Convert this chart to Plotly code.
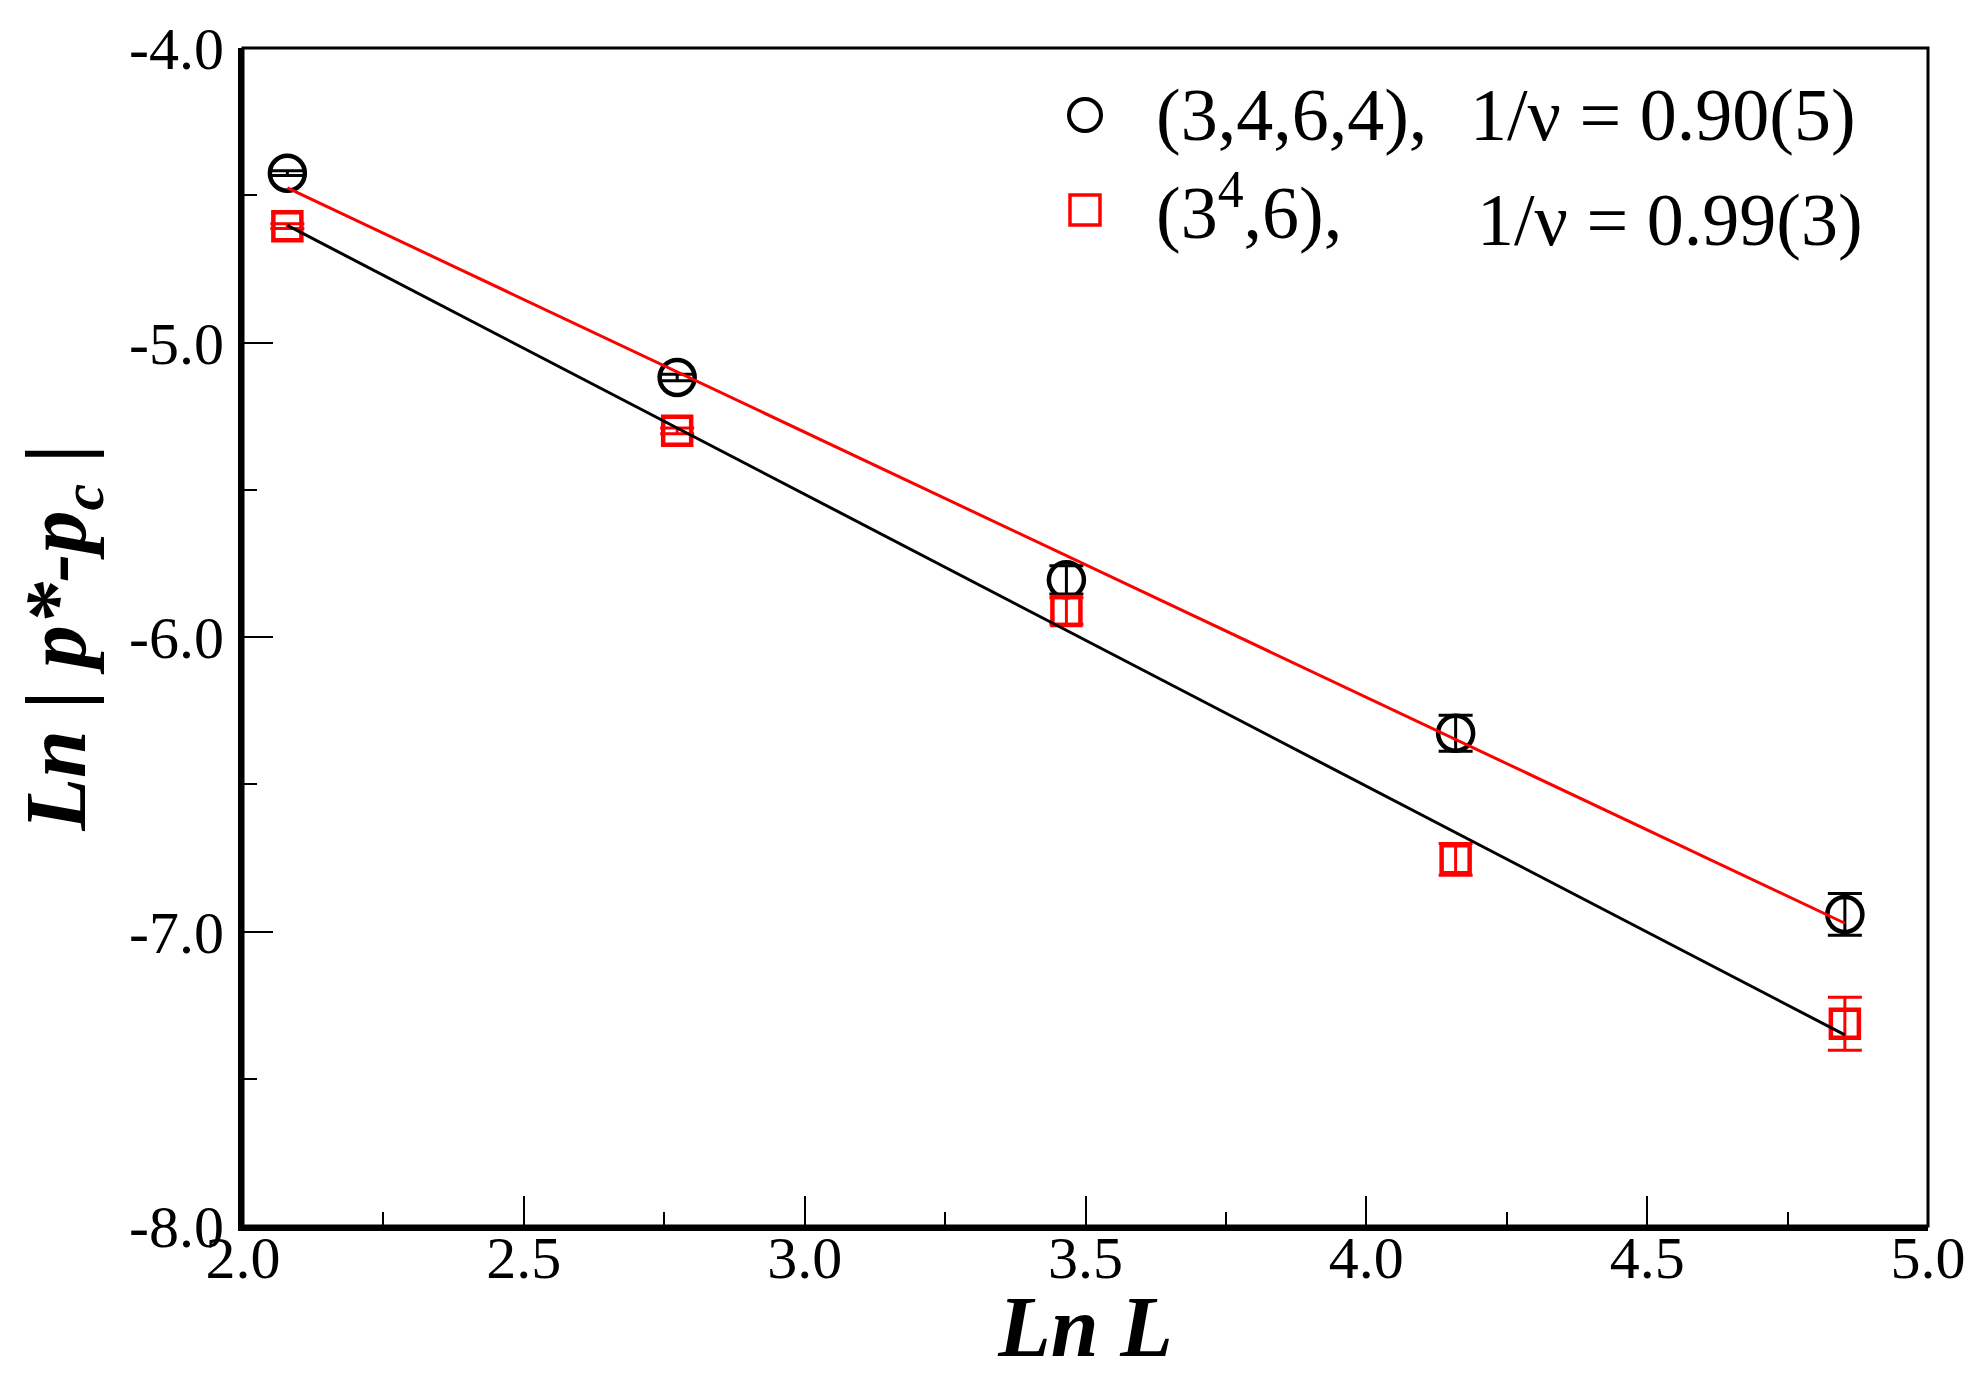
import numpy as np
import plotly.graph_objects as go

# region Data
# ln L for L = 8, 16, 32, 64, 128
ln_L = [2.079, 2.773, 3.466, 4.159, 4.852]

# (3,4,6,4) lattice
y_3464 = [-4.425, -5.119, -5.806, -6.327, -6.942]
err_3464 = [0.008, 0.011, 0.048, 0.061, 0.071]

# (3^4,6) lattice
y_346 = [-4.605, -5.300, -5.912, -6.755, -7.313]
err_346 = [0.008, 0.010, 0.045, 0.054, 0.090]

x_tickvals = [2.0, 2.5, 3.0, 3.5, 4.0, 4.5, 5.0]
x_ticktext = ["2.0", "2.5", "3.0", "3.5", "4.0", "4.5", "5.0"]
y_tickvals = [-8.0, -7.0, -6.0, -5.0, -4.0]
y_ticktext = ["-8.0", "-7.0", "-6.0", "-5.0", "-4.0"]

legend_names = ["(3,4,6,4),", "(3<sup>4</sup>,6),"]
legend_values = ["1/ν = 0.90(5)", "1/ν = 0.99(3)"]
# endregion

FONT = "Times New Roman, Liberation Serif, serif"

fig = go.Figure()

# Data points with error bars
fig.add_trace(go.Scatter(
    x=ln_L, y=y_3464,
    mode="markers", showlegend=False,
    marker=dict(symbol="circle-open", size=35, color="black", line=dict(width=4.5, color="black")),
    error_y=dict(type="data", array=err_3464, color="black", thickness=3, width=17)
))
fig.add_trace(go.Scatter(
    x=ln_L, y=y_346,
    mode="markers", showlegend=False,
    marker=dict(symbol="square-open", size=28, color="red", line=dict(width=4.5, color="red")),
    error_y=dict(type="data", array=err_346, color="red", thickness=3, width=17)
))

# Linear fits (colours are swapped in the original figure)
ln_L_arr = np.asarray(ln_L)
fit_3464 = np.polyfit(ln_L_arr, y_3464, 1)
fit_346 = np.polyfit(ln_L_arr, y_346, 1)
fit_x = [ln_L[0], ln_L[-1]]

fig.add_trace(go.Scatter(
    x=fit_x, y=np.polyval(fit_3464, fit_x),
    mode="lines", line=dict(color="red", width=3), showlegend=False
))
fig.add_trace(go.Scatter(
    x=fit_x, y=np.polyval(fit_346, fit_x),
    mode="lines", line=dict(color="black", width=3), showlegend=False
))

# Frame on top / right
fig.add_shape(type="rect", xref="paper", yref="paper", x0=0, y0=0, x1=1, y1=1,
              line=dict(color="black", width=3), layer="above")

# region Legend (symbols + text)
leg_x_sym = 0.4997
leg_rows_y = [0.9431, 0.8625]
fig.add_shape(type="circle", xref="paper", yref="paper",
              xsizemode="pixel", ysizemode="pixel",
              xanchor=leg_x_sym, yanchor=leg_rows_y[0],
              x0=-16, x1=16, y0=-16, y1=16,
              line=dict(color="black", width=4))
fig.add_shape(type="rect", xref="paper", yref="paper",
              xsizemode="pixel", ysizemode="pixel",
              xanchor=leg_x_sym, yanchor=leg_rows_y[1],
              x0=-15, x1=15, y0=-15, y1=15,
              line=dict(color="red", width=3.5))

text_rows_y = [0.9431, 0.854]
for i, (nm, val) in enumerate(zip(legend_names, legend_values)):
    fig.add_annotation(
        x=0.5407, y=text_rows_y[i], xref="paper", yref="paper",
        xanchor="left", yanchor="middle", showarrow=False,
        text=nm, font=dict(family=FONT, size=74, color="black"),
        yshift=0 if i == 0 else 12
    )
    fig.add_annotation(
        x=0.727 if i == 0 else 0.731, y=text_rows_y[i], xref="paper", yref="paper",
        xanchor="left", yanchor="middle", showarrow=False,
        text=val, font=dict(family=FONT, size=74, color="black")
    )
# endregion

fig.update_xaxes(
    range=[2.0, 5.0],
    tickvals=x_tickvals, ticktext=x_ticktext,
    ticks="inside", ticklen=30, tickwidth=2, tickcolor="black",
    minor=dict(dtick=0.25, ticks="inside", ticklen=14, tickwidth=2, tickcolor="black"),
    showline=True, linewidth=5, linecolor="black",
    showgrid=False, zeroline=False, automargin=False,
    tickfont=dict(family=FONT, size=60, color="black"),
    ticklabelstandoff=-25,
    title=dict(text="<b><i>Ln L</i></b>", font=dict(family=FONT, size=86, color="black"), standoff=22)
)
fig.update_yaxes(
    range=[-8.0, -4.0],
    tickvals=y_tickvals, ticktext=y_ticktext,
    ticks="inside", ticklen=30, tickwidth=2, tickcolor="black",
    minor=dict(dtick=0.5, ticks="inside", ticklen=14, tickwidth=2, tickcolor="black"),
    showline=True, linewidth=5, linecolor="black",
    showgrid=False, zeroline=False, automargin=False,
    tickfont=dict(family=FONT, size=60, color="black"),
    ticklabelstandoff=2,
    title=dict(text="<b><i>Ln | p*-p<sub>c</sub> |</i></b>", font=dict(family=FONT, size=86, color="black"), standoff=24)
)

fig.update_layout(
    width=1967, height=1367,
    margin=dict(l=235, r=47, t=40, b=149),
    plot_bgcolor="white", paper_bgcolor="white",
    font=dict(family=FONT, color="black"),
    showlegend=False,
)

fig.write_html("out.html")
